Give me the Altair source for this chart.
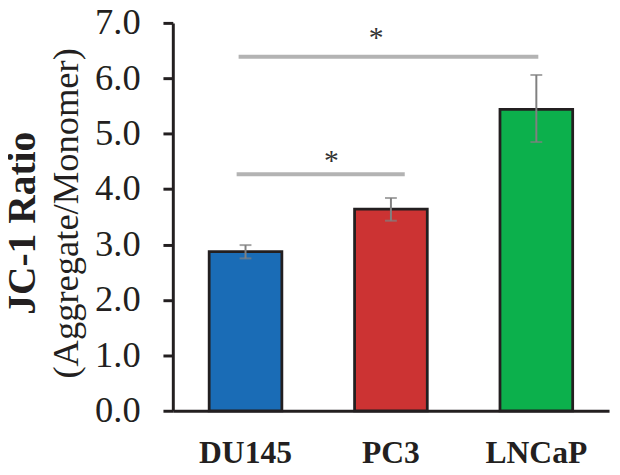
import altair as alt
import pandas as pd

cells = ["DU145", "PC3", "LNCaP"]
ratio = [2.87, 3.64, 5.44]
err_lo = [2.75, 3.43, 4.85]
err_hi = [2.99, 3.84, 6.06]
colors = ["#1a6cb6", "#cc3333", "#0cb04c"]

sig_start = ["DU145", "DU145"]
sig_end = ["PC3", "LNCaP"]
sig_y = [4.27, 6.39]
star_y = [4.56, 6.75]
star_at = ["DU145", "PC3"]

y_ticks = [0, 1, 2, 3, 4, 5, 6, 7]
title_bold = "JC-1 Ratio"
title_norm = "(Aggregate/Monomer)"

FONT = "'Times New Roman', 'Liberation Serif', Tinos, Times, serif"
INK = "#231f20"

df = pd.DataFrame({"cell": cells, "ratio": ratio, "lo": err_lo, "hi": err_hi})
sig = pd.DataFrame({"start": sig_start, "end": sig_end, "y": sig_y, "sy": star_y, "at": star_at})

xscale = alt.Scale(domain=cells, paddingInner=0.5, paddingOuter=0.25)
yscale = alt.Scale(domain=[0, 7], nice=False)

xaxis = alt.Axis(title=None, labelAngle=0, labelFont=FONT, labelFontSize=32,
                 labelFontWeight="bold", labelColor=INK, tickSize=0, labelPadding=27,
                 domainColor=INK, domainWidth=3)
yaxis = alt.Axis(title=None, values=y_ticks, format=".1f", labelFont=FONT,
                 labelFontSize=37, labelColor=INK, labelPadding=23, tickSize=10,
                 tickWidth=3, tickColor=INK, domainColor=INK, domainWidth=3, grid=False)


def X(field):
    return alt.X(field, sort=cells, scale=xscale, axis=xaxis)


def Y(field):
    return alt.Y(field, scale=yscale, axis=yaxis)


bars = alt.Chart(df).mark_bar(stroke=INK, strokeWidth=2.8).encode(
    x=X("cell:N"),
    y=Y("ratio:Q"),
    color=alt.Color("cell:N", scale=alt.Scale(domain=cells, range=colors), legend=None),
)

err = alt.Chart(df).mark_rule(color="#808080", strokeWidth=2).encode(
    x=X("cell:N"), y=Y("lo:Q"), y2="hi:Q",
)
cap_lo = alt.Chart(df).mark_tick(color="#808080", thickness=2, size=12, orient="horizontal").encode(
    x=X("cell:N"), y=Y("lo:Q"),
)
cap_hi = alt.Chart(df).mark_tick(color="#808080", thickness=2, size=12, orient="horizontal").encode(
    x=X("cell:N"), y=Y("hi:Q"),
)

sig_lower = sig.iloc[[0]]
sig_upper = sig.iloc[[1]]

line_lower = alt.Chart(sig_lower).mark_rule(color="#b3b3b3", strokeWidth=4, xOffset=-9, x2Offset=14).encode(
    x=X("start:N"), x2="end:N", y=Y("y:Q"),
)
line_upper = alt.Chart(sig_upper).mark_rule(color="#b3b3b3", strokeWidth=4, xOffset=-7, x2Offset=2).encode(
    x=X("start:N"), x2="end:N", y=Y("y:Q"),
)
star_lower = alt.Chart(sig_lower).mark_text(text="*", font=FONT, fontSize=30, color="#333333",
                                            baseline="middle", dx=87, dy=3).encode(
    x=X("at:N"), y=Y("sy:Q"),
)
star_upper = alt.Chart(sig_upper).mark_text(text="*", font=FONT, fontSize=30, color="#333333",
                                            baseline="middle", dx=-15, dy=1).encode(
    x=X("at:N"), y=Y("sy:Q"),
)

titles = pd.DataFrame({"t": [title_bold, title_norm]})
t_bold = alt.Chart(titles).transform_filter(alt.datum.t == title_bold).mark_text(
    font=FONT, fontSize=40, fontWeight="bold", color=INK, angle=270, baseline="middle", align="center"
).encode(x=alt.value(-152), y=alt.value(203), text="t:N")
t_norm = alt.Chart(titles).transform_filter(alt.datum.t == title_norm).mark_text(
    font=FONT, fontSize=37, color=INK, angle=270, baseline="middle", align="center"
).encode(x=alt.value(-107), y=alt.value(193), text="t:N")

chart = alt.layer(bars, err, cap_lo, cap_hi, line_lower, line_upper, star_lower, star_upper,
                  t_bold, t_norm).properties(
    width=442, height=393,
    autosize=alt.AutoSizeParams(type="none"),
    padding={"left": 167, "top": 12, "right": 3, "bottom": 62},
).configure_view(stroke=None)

chart.save("out.html", embed_options={"renderer": "svg", "actions": False})
